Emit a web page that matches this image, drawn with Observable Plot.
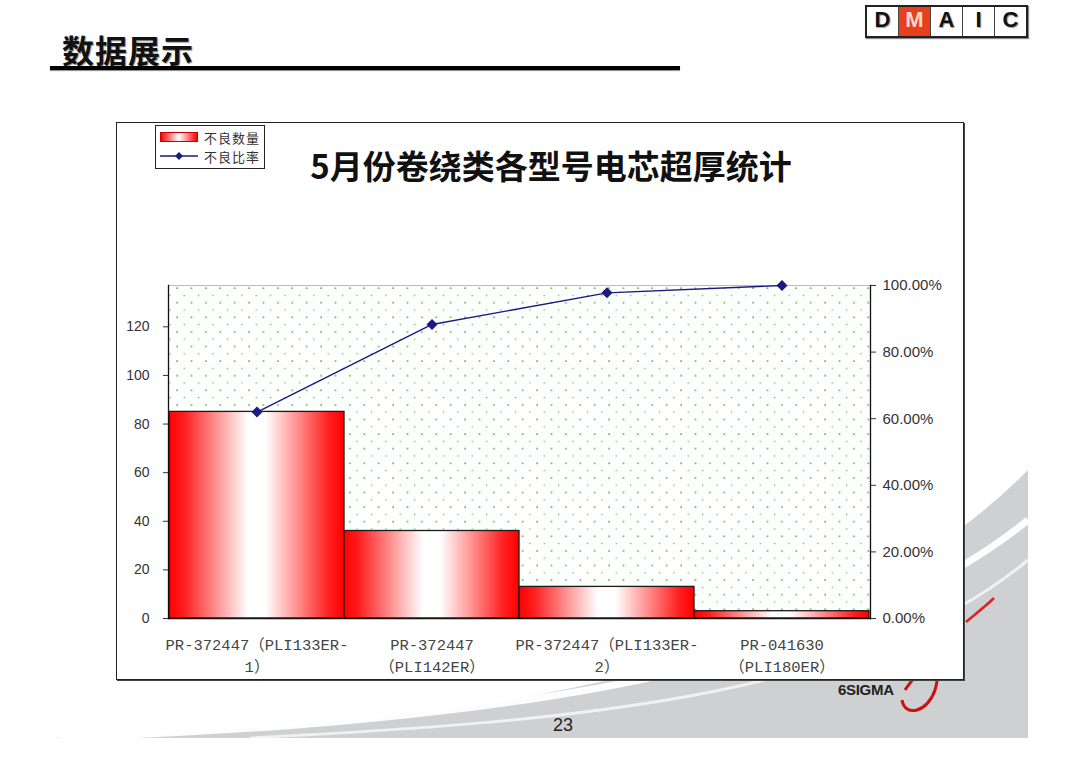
<!DOCTYPE html>
<html>
<head>
<meta charset="utf-8">
<script src="https://cdn.jsdelivr.net/npm/d3@7"></script>
<script src="https://cdn.jsdelivr.net/npm/@observablehq/plot@0.6"></script>
<style>
  html, body { margin: 0; padding: 0; background: #fff; }
  #page { position: relative; width: 1080px; height: 764px; overflow: hidden; background: #fff; font-family: "Liberation Sans", Arial, sans-serif; }
  #bg { position: absolute; left: 0; top: 0; }
  #pagetitle { position: absolute; left: 62px; top: 26px; font: bold 32px "Noto Sans CJK SC", sans-serif; color: #111; text-shadow: 1px 1px 1px #999; letter-spacing: 1px; }
  #rule { position: absolute; left: 50px; top: 66px; width: 630px; height: 4px; background: #000; box-shadow: 0 1px 1px #888; }
  #dmaic { position: absolute; left: 865px; top: 5px; display: flex; border: 2px solid #222; box-shadow: 1px 1px 1px #888; }
  #dmaic div { width: 31px; height: 29px; line-height: 29px; text-align: center; font: bold 22px "Liberation Sans", Arial, sans-serif; color: #111; border-left: 1.5px solid #444; background: #fff; text-shadow: 1px 1px 1px #999; }
  #dmaic div:first-child { border-left: none; }
  #dmaic div.on { background: #e8401c; color: #f4d8d0; text-shadow: none; }
  #frame { position: absolute; left: 116px; top: 122px; width: 846px; height: 556px; border: 1.5px solid #222; background: #fff; box-shadow: 1px 1px 0 #444; }
  #charttitle { position: absolute; left: 116px; top: 141px; width: 870px; text-align: center; font: bold 33px "Noto Sans CJK SC", sans-serif; color: #111; }
  #legend { position: absolute; left: 155px; top: 125px; width: 108px; height: 42px; border: 1px solid #222; background: #fff; font: 13px "Noto Sans CJK SC", sans-serif; color: #333; letter-spacing: 1px; }
  #legend .row { position: absolute; left: 4px; height: 18px; display: flex; align-items: center; }
  #legend .sw { width: 36px; height: 8px; margin-right: 6px; border: 1px solid #c00; background: linear-gradient(to right, #ff0000, #ffffff 50%, #ff0000); }
  #chart { position: absolute; left: 116px; top: 270px; }
  #pnum { position: absolute; left: 553px; top: 715px; font: 18px "Liberation Sans", Arial, sans-serif; color: #222; }
  #sigma { position: absolute; left: 838px; top: 681px; font: bold 15px "Liberation Sans", Arial, sans-serif; color: #222; letter-spacing: -0.3px; }
</style>
</head>
<body>
<div id="page">
  <svg id="bg" width="1080" height="764">
    <path d="M50 738 C 400 725, 800 700, 1028 470 L 1028 738 Z" fill="#cfd0d2"/>
    <path d="M60 738 C 420 724, 820 690, 1028 520" fill="none" stroke="#fff" stroke-width="7" opacity="0.95"/>
    <path d="M250 738 C 560 722, 860 700, 1028 560" fill="none" stroke="#fff" stroke-width="3" opacity="0.7"/>
    <path d="M966 622 C 978 612, 988 604, 994 598" fill="none" stroke="#d22" stroke-width="2.5"/>
    <path d="M905 690 C 925 660, 945 655, 935 690 C 928 712, 905 718, 902 700" fill="none" stroke="#c11" stroke-width="3"/>
  </svg>
  <div id="pagetitle">数据展示</div>
  <div id="rule"></div>
  <div id="dmaic"><div>D</div><div class="on">M</div><div>A</div><div>I</div><div>C</div></div>
  <div id="frame"></div>
  <div id="charttitle">5月份卷绕类各型号电芯超厚统计</div>
  <div id="legend">
    <div class="row" style="top:2px"><span class="sw"></span>不良数量</div>
    <div class="row" style="top:21px"><svg width="42" height="10" style="margin-right:2px"><line x1="0" y1="5" x2="38" y2="5" stroke="#1a1a80" stroke-width="1.3"/><path d="M19 1 L23 5 L19 9 L15 5 Z" fill="#1a1a80"/></svg>不良比率</div>
  </div>
  <div id="chart"></div>
  <div id="sigma">6SIGMA</div>
  <div id="pnum">23</div>
</div>
<script>
// ---- data ----
const categories = ["PR-372447（PLI133ER-1）", "PR-372447（PLI142ER）", "PR-372447（PLI133ER-2）", "PR-041630（PLI180ER）"];
const tickLabels = ["PR-372447（PLI133ER-\n1）", "PR-372447\n（PLI142ER）", "PR-372447（PLI133ER-\n2）", "PR-041630\n（PLI180ER）"];
const counts = [85, 36, 13, 3];                    // 不良数量
const rates = [0.620, 0.883, 0.978, 1.0];          // 不良比率 (cumulative)
const leftTicks = [0, 20, 40, 60, 80, 100, 120];
const rightTicks = [0, 0.2, 0.4, 0.6, 0.8, 1.0];
const countMax = 137;                              // left axis top == 100%

const data = categories.map((c, i) => ({cat: c, label: tickLabels[i], count: counts[i], rate: rates[i]}));

const navy = "#1a1a80";
const chart = Plot.plot({
  width: 848,
  height: 408,
  marginLeft: 52,
  marginRight: 94,
  marginTop: 15,
  marginBottom: 60,
  style: {fontFamily: "'Liberation Sans', Arial, sans-serif", fontSize: "14px", color: "#333", background: "transparent"},
  x: {domain: categories, padding: 0, axis: null},
  y: {domain: [0, countMax], axis: null},
  marks: [
    Plot.frame({fill: "url(#dots)", stroke: null}),
    Plot.ruleY([countMax], {stroke: "#bbb"}),
    Plot.barY(data, {x: "cat", y: "count", fill: "url(#redgrad)", stroke: "#1a1a1a", strokeWidth: 1.3}),
    Plot.frame({anchor: "left", stroke: "#111", strokeWidth: 1.3}),
    Plot.frame({anchor: "right", stroke: "#111", strokeWidth: 1.3}),
    Plot.frame({anchor: "bottom", stroke: "#111", strokeWidth: 1.3}),
    Plot.axisY({anchor: "left", ticks: leftTicks, tickSize: 5, tickPadding: 14, label: null, fontSize: 14}),
    Plot.axisY({anchor: "right", ticks: rightTicks.map(p => p * countMax), tickFormat: d => (d / countMax * 100).toFixed(2) + "%", tickSize: 5, tickPadding: 7, label: null, fontSize: 15}),
    Plot.line(data, {x: "cat", y: d => d.rate * countMax, stroke: navy, strokeWidth: 1.4}),
    Plot.dot(data, {x: "cat", y: d => d.rate * countMax, symbol: "diamond2", r: 4, fill: navy, stroke: navy}),
    Plot.text(data, {x: "cat", y: 0, text: "label", dy: 16, lineAnchor: "top", lineHeight: 1.4,
      fontFamily: "'Liberation Mono', 'Noto Sans CJK SC', monospace", fontSize: 15.5, fill: "#444"})
  ]
});

const defs = d3.select(chart).insert("defs", ":first-child");
const g = defs.append("linearGradient").attr("id", "redgrad").attr("x1", 0).attr("x2", 1).attr("y1", 0).attr("y2", 0);
[[0, "#ff0000"], [0.08, "#ff1c1c"], [0.45, "#ffffff"], [0.55, "#ffffff"], [0.92, "#ff1c1c"], [1, "#ff0000"]]
  .forEach(([o, c]) => g.append("stop").attr("offset", o).attr("stop-color", c));
const p = defs.append("pattern").attr("id", "dots").attr("patternUnits", "userSpaceOnUse")
  .attr("width", 14.4).attr("height", 14.6);
p.append("rect").attr("width", 14.4).attr("height", 14.6).attr("fill", "#fdfffd");
p.append("circle").attr("cx", 3).attr("cy", 3).attr("r", 0.9).attr("fill", "#3aa83a");
p.append("circle").attr("cx", 10.2).attr("cy", 10.3).attr("r", 0.8).attr("fill", "#6cbf6c");

document.getElementById("chart").appendChild(chart);
</script>
</body>
</html>
